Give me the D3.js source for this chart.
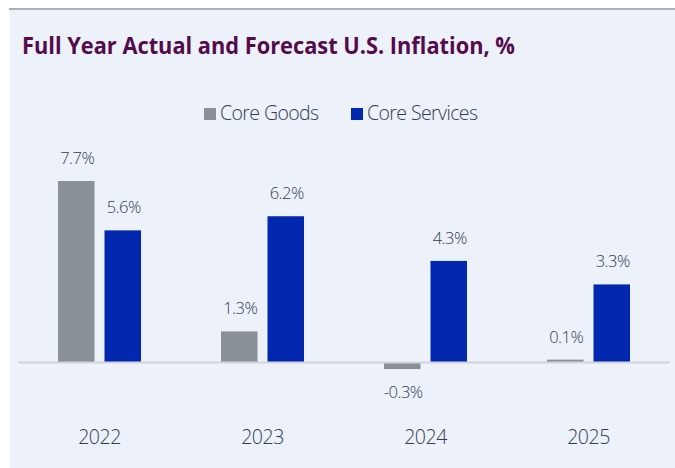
<!DOCTYPE html>
<html><head><meta charset="utf-8">
<script src="https://cdn.jsdelivr.net/npm/d3@7"></script>
<style>html,body{margin:0;padding:0;background:#fff;}svg{display:block;}</style>
</head><body>
<svg id="chart" width="675" height="468"></svg>
<script>
const categories = ["2022", "2023", "2024", "2025"];
const seriesNames = ["Core Goods", "Core Services"];
const coreGoods = [7.7, 1.3, -0.3, 0.1];
const coreServices = [5.6, 6.2, 4.3, 3.3];
const seriesColors = ["#899196", "#0228b0"];
const titleText = "Full Year Actual and Forecast U.S. Inflation, %";

const svg = d3.select("#chart");
const W = 675, H = 468;
const textColor = "#2f3d52";
const font = "'Open Sans', 'Noto Sans', sans-serif";
const lightWeight = 300;

// panel
svg.append("rect").attr("x", 10).attr("y", 9).attr("width", W - 10).attr("height", H - 9).attr("fill", "#edf1f9");
svg.append("line").attr("x1", 9).attr("x2", W).attr("y1", 9).attr("y2", 9)
  .attr("stroke", "#a9b0b6").attr("stroke-width", 2);

// title
svg.append("text").attr("x", 22).attr("y", 53.5).text(titleText)
  .attr("font-family", font).attr("font-weight", 700).attr("font-size", 22.5)
  .attr("fill", "#530b4c").attr("textLength", 493).attr("lengthAdjust", "spacingAndGlyphs");

// scales
const x0 = d3.scaleBand().domain(categories).range([18, 670]).padding(0);
const x1 = d3.scaleBand().domain(seriesNames).range([0, x0.bandwidth()]).paddingInner(0.215).paddingOuter(0.86);
const y = d3.scaleLinear().domain([0, 7.7]).range([362, 181]);

const data = categories.map((c, i) => ({cat: c, vals: [
  {s: seriesNames[0], v: coreGoods[i], color: seriesColors[0]},
  {s: seriesNames[1], v: coreServices[i], color: seriesColors[1]}
]}));

const groups = svg.append("g").selectAll("g").data(data).join("g")
  .attr("transform", d => `translate(${x0(d.cat)},0)`);

groups.selectAll("rect").data(d => d.vals).join("rect")
  .attr("x", d => x1(d.s))
  .attr("width", x1.bandwidth())
  .attr("y", d => Math.min(y(d.v), y(0)))
  .attr("height", d => Math.abs(y(d.v) - y(0)))
  .attr("fill", d => d.color);

groups.selectAll("text.val").data(d => d.vals).join("text").attr("class", "val")
  .attr("x", d => x1(d.s) + x1.bandwidth() / 2 + 1)
  .attr("y", d => d.v >= 0 ? y(d.v) - 17 : y(d.v) + 29)
  .attr("text-anchor", "middle")
  .attr("font-family", font).attr("font-weight", lightWeight).attr("font-size", 16.5).attr("fill", textColor)
  .attr("letter-spacing", -0.5)
  .text(d => d3.format(".1f")(d.v).replace("−", "-") + "%");

// baseline
svg.append("line").attr("x1", 18).attr("x2", 670).attr("y1", y(0) + 0.5).attr("y2", y(0) + 0.5)
  .attr("stroke", "#d2d4d8").attr("stroke-width", 2);

// category axis
const xAxis = svg.append("g").attr("transform", `translate(0,${y(0)})`)
  .call(d3.axisBottom(x0).tickSize(0).tickPadding(0));
xAxis.select(".domain").remove();
xAxis.selectAll("text").attr("y", 82).attr("dy", 0)
  .attr("font-family", font).attr("font-weight", lightWeight).attr("font-size", 19.5).attr("fill", textColor)
  .attr("letter-spacing", -0.5);

// legend
const legendX = [204, 351];
const legend = svg.append("g").selectAll("g").data(seriesNames).join("g")
  .attr("transform", (d, i) => `translate(${legendX[i]},108)`);
legend.append("rect").attr("width", 12).attr("height", 12).attr("fill", (d, i) => seriesColors[i]);
legend.append("text").attr("x", 16).attr("y", 12).text(d => d)
  .attr("font-family", font).attr("font-weight", lightWeight).attr("font-size", 19.5).attr("fill", textColor)
  .attr("letter-spacing", -0.6);
</script>
</body></html>
